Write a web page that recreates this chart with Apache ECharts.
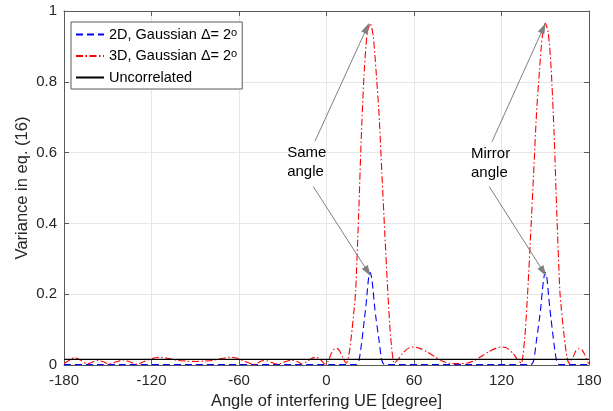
<!DOCTYPE html>
<html><head><meta charset="utf-8">
<script src="https://cdn.jsdelivr.net/npm/echarts@6/dist/echarts.min.js"></script>
<style>html,body{margin:0;padding:0;background:#fff}#c{width:613px;height:411px}</style>
</head><body><div id="c"></div>
<script>
// ---- data ----
const xTicks = [-180, -120, -60, 0, 60, 120, 180];
const yTicks = [0, 0.2, 0.4, 0.6, 0.8, 1];

const angle3D = [-180,-176,-172.7,-168,-164,-160,-156.8,-153,-149,-145,-139,-135,-130,-125,-119,-114,-108,-102,-96,-90,-84,-78,-72,-66,-61,-56,-50,-47,-44,-41,-38,-34,-31.5,-28,-24,-20,-17,-14,-10.5,-7.3,-4,-1.1,1,3,5,7,9,11,13.5,15,17,19,20,22,24,26,28,30,32,34,36,38,40,42,44,46.5,49,52,56,60,64,69,74,79,84,90,96,101,106,111,116,120,124,128,131,133.5,136,138,140,142,144,146,148,150,152,154,156,158,160,161,163,165,166.5,169,171,173,175,177,179,180];
const value3D = [0.004,0.014,0.021,0.012,0.003,0.009,0.013,0.009,0.003,0.008,0.014,0.009,0.002,0.01,0.019,0.022,0.018,0.013,0.011,0.01,0.011,0.013,0.018,0.022,0.019,0.01,0.002,0.006,0.012,0.012,0.008,0.003,0.004,0.01,0.014,0.01,0.003,0.008,0.018,0.022,0.015,0.003,0.01,0.03,0.044,0.047,0.04,0.022,0.005,0.02,0.08,0.16,0.21,0.42,0.66,0.84,0.94,0.965,0.93,0.83,0.71,0.54,0.37,0.21,0.08,0.005,0.015,0.032,0.047,0.051,0.047,0.037,0.024,0.012,0.005,0.004,0.005,0.012,0.024,0.037,0.047,0.051,0.047,0.032,0.015,0.005,0.08,0.21,0.37,0.54,0.71,0.83,0.93,0.965,0.94,0.84,0.66,0.42,0.21,0.16,0.08,0.02,0.005,0.022,0.04,0.046,0.044,0.03,0.01,0.004];

const angle2D = [-180,20,22,24,26,27,28,29,30,31,32,33,34,36,38,40,140,142,144,146,147,148,149,150,151,152,153,154,156,158,160,180];
const value2D = [0.001,0.001,0.008,0.06,0.13,0.165,0.21,0.25,0.262,0.245,0.21,0.165,0.13,0.07,0.012,0.001,0.001,0.012,0.07,0.13,0.165,0.21,0.245,0.262,0.25,0.21,0.165,0.13,0.06,0.008,0.001,0.001];

const angleUncorr = [-180, 180];
const valueUncorr = [0.016, 0.016];

const seriesNames = ['2D, Gaussian \u0394= 2', '3D, Gaussian \u0394= 2', 'Uncorrelated'];
const annotTexts = ['Same\nangle', 'Mirror\nangle'];
const annotAnchors = [[-27.0, 0.573], [99.1, 0.571]];
const arrowLines = [
  [[-7.9, 0.632], [27.6, 0.952]],
  [[-9.05, 0.504], [28.3, 0.264]],
  [[113.5, 0.631], [148.7, 0.952]],
  [[111.6, 0.504], [148.7, 0.264]]
];

// ---- chart ----
const pairs = (xs, ys) => xs.map((x, i) => [x, ys[i]]);
const FONT = 'Liberation Sans, Arial, Helvetica, sans-serif';
const AX = '#5a5a5a';
const chart = echarts.init(document.getElementById('c'), null, {renderer: 'canvas'});

const commonX = {type: 'value', min: -180, max: 180, interval: 60};
const commonY = {type: 'value', min: 0, max: 1, interval: 0.2};

chart.setOption({
  animation: false,
  backgroundColor: '#fff',
  grid: {left: 64, right: 24, top: 11, bottom: 46, containLabel: false, outerBoundsMode: 'none'},
  xAxis: [
    Object.assign({}, commonX, {
      position: 'bottom',
      name: 'Angle of interfering UE [degree]', nameLocation: 'middle', nameGap: 28, nameMoveOverlap: false,
      nameTextStyle: {fontFamily: FONT, fontSize: 16.5, color: '#262626'},
      axisLine: {show: true, onZero: false, lineStyle: {color: AX, width: 1}},
      axisTick: {show: true, inside: true, length: 5, lineStyle: {color: AX}},
      axisLabel: {fontFamily: FONT, fontSize: 15, color: '#262626', margin: 8},
      splitLine: {show: true, lineStyle: {color: '#e6e6e6', width: 1}}
    }),
    Object.assign({}, commonX, {
      position: 'top',
      axisLine: {show: true, onZero: false, lineStyle: {color: AX, width: 1}},
      axisTick: {show: true, inside: true, length: 5, lineStyle: {color: AX}},
      axisLabel: {show: false}, splitLine: {show: false}
    })
  ],
  yAxis: [
    Object.assign({}, commonY, {
      position: 'left',
      name: 'Variance in eq. (16)', nameLocation: 'middle', nameGap: 33, nameMoveOverlap: false,
      nameTextStyle: {fontFamily: FONT, fontSize: 16.5, color: '#262626'},
      axisLine: {show: true, onZero: false, lineStyle: {color: AX, width: 1}},
      axisTick: {show: true, inside: true, length: 5, lineStyle: {color: AX}},
      axisLabel: {fontFamily: FONT, fontSize: 15, color: '#262626', margin: 7},
      splitLine: {show: true, lineStyle: {color: '#e6e6e6', width: 1}}
    }),
    Object.assign({}, commonY, {
      position: 'right',
      axisLine: {show: true, onZero: false, lineStyle: {color: AX, width: 1}},
      axisTick: {show: true, inside: true, length: 5, lineStyle: {color: AX}},
      axisLabel: {show: false}, splitLine: {show: false}
    })
  ],
  legend: {
    orient: 'vertical', left: 71, top: 22,
    padding: [5, 5, 4, 4], itemGap: 6.5, itemWidth: 28, itemHeight: 14,
    backgroundColor: '#fff', borderColor: '#5a5a5a', borderWidth: 1,
    data: seriesNames,
    itemStyle: {opacity: 0},
    formatter: function (name) { return name === 'Uncorrelated' ? name : name + '{sup|o}'; },
    textStyle: {fontFamily: FONT, fontSize: 14.5, color: '#000',
      rich: {sup: {fontFamily: FONT, fontSize: 11, verticalAlign: 'top', lineHeight: 14, color: '#000'}}}
  },
  series: [
    {
      name: seriesNames[0], type: 'line', data: pairs(angle2D, value2D),
      symbol: 'none', smooth: 0.25, z: 3,
      lineStyle: {color: '#0000ff', width: 1.1, type: [7, 4]}, itemStyle: {color: '#0000ff'}
    },
    {
      name: seriesNames[1], type: 'line', data: pairs(angle3D, value3D),
      symbol: 'none', smooth: 0.25, z: 4,
      lineStyle: {color: '#ff0000', width: 1.1, type: [7, 2.5, 1.5, 2.5]}, itemStyle: {color: '#ff0000'},
      markLine: {
        silent: true, symbol: ['none', 'triangle'], symbolSize: [7, 11],
        label: {show: false},
        lineStyle: {color: '#808080', width: 1, type: 'solid'},
        itemStyle: {color: '#808080'},
        data: arrowLines.map(l => [{coord: l[0]}, {coord: l[1]}])
      }
    },
    {
      name: seriesNames[2], type: 'line', data: pairs(angleUncorr, valueUncorr),
      symbol: 'none', z: 5,
      lineStyle: {color: '#000000', width: 1.1, type: 'solid'}, itemStyle: {color: '#000'}
    }
  ]
});

const g = annotTexts.map((t, i) => {
  const p = chart.convertToPixel({xAxisIndex: 0, yAxisIndex: 0}, annotAnchors[i]);
  return {type: 'text', x: p[0], y: p[1], z: 100,
    style: {text: t, font: '15px ' + FONT, fill: '#000', align: 'left', verticalAlign: 'middle', lineHeight: 19}};
});
chart.setOption({graphic: g});
</script></body></html>
